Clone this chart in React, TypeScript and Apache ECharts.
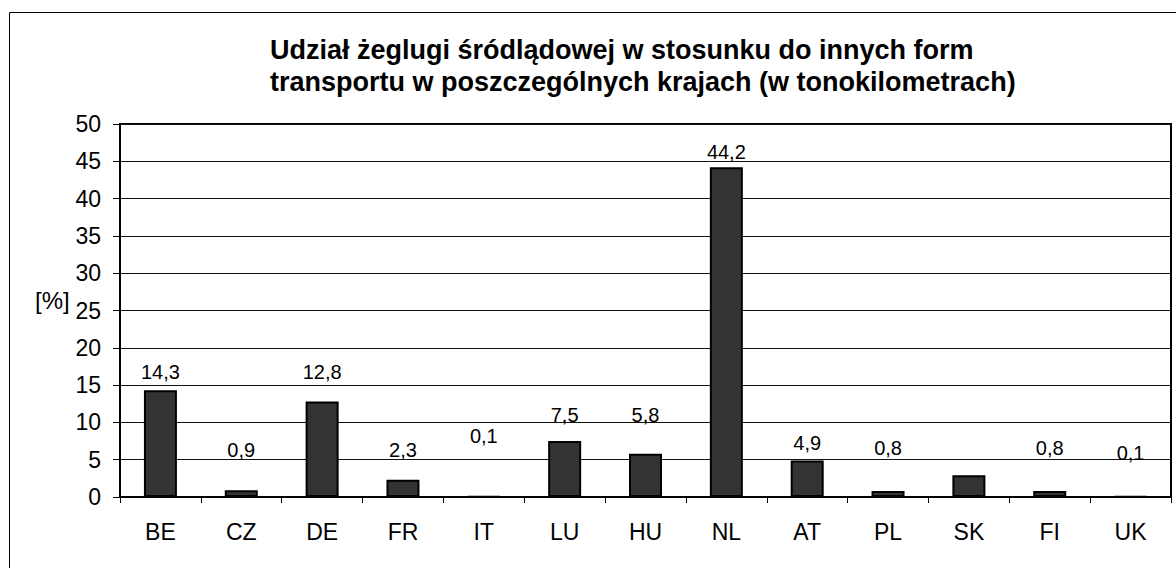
import React, { useEffect, useRef } from "react";
import * as echarts from "echarts";

const categories = ["BE", "CZ", "DE", "FR", "IT", "LU", "HU", "NL", "AT", "PL", "SK", "FI", "UK"];
const values = [14.3, 0.9, 12.8, 2.3, 0.1, 7.5, 5.8, 44.2, 4.9, 0.8, 2.9, 0.8, 0.1];
// label lift above bar top in px (null = no label shown)
const labelLift: (number | null)[] = [18.6, 40.3, 29.8, 29.8, 59.6, 26.1, 38.7, 15.6, 17.1, 42.7, null, 42.7, 43];

const titleLines = [
  "Udział żeglugi śródlądowej w stosunku do innych form",
  "transportu w poszczególnych krajach (w tonokilometrach)",
];
const yAxisName = "[%]";
const yMin = 0;
const yMax = 50;
const yInterval = 5;

const FONT = "'Liberation Sans', Arial, sans-serif";

export default function App() {
  const ref = useRef<HTMLDivElement>(null);
  useEffect(() => {
    document.body.style.margin = "0";
    if (!ref.current) return;
    const chart = echarts.init(ref.current, null, { renderer: "svg" });
    const data = values.map((v, i) => {
      const lift = labelLift[i];
      return {
        value: v,
        label: lift == null ? { show: false } : { show: true, offset: [0, -lift] },
      };
    });
    chart.setOption({
      animation: false,
      backgroundColor: "#fff",
      textStyle: { fontFamily: FONT },
      title: {
        text: titleLines.join("\n"),
        left: 265,
        top: 29,
        textAlign: "left",
        textStyle: {
          fontFamily: FONT,
          fontSize: 27,
          fontWeight: "bold",
          color: "#000",
          lineHeight: 32,
        },
      },
      graphic: [
        {
          type: "rect",
          shape: { x: 9.5, y: 12.5, width: 1200, height: 600 },
          style: { fill: "none", stroke: "#000", lineWidth: 1 },
          silent: true,
        },
        {
          type: "text",
          x: 35,
          y: 300,
          style: {
            text: yAxisName,
            fontFamily: FONT,
            fontSize: 24,
            fill: "#000",
            textAlign: "left",
            textVerticalAlign: "middle",
          },
        },
      ],
      grid: {
        left: 120,
        right: 5,
        top: 124,
        bottom: 71,
        show: true,
        borderColor: "#000",
        borderWidth: 2,
      },
      xAxis: {
        type: "category",
        data: categories,
        boundaryGap: true,
        axisLine: { show: true, lineStyle: { color: "#000", width: 2 } },
        axisTick: { show: true, length: 6, inside: false, alignWithLabel: false, lineStyle: { color: "#000", width: 1 } },
        axisLabel: { fontFamily: FONT, fontSize: 23, color: "#000", margin: 23 },
        splitLine: { show: false },
      },
      yAxis: {
        type: "value",
        min: yMin,
        max: yMax,
        interval: yInterval,
        axisLine: { show: true, lineStyle: { color: "#000", width: 2 } },
        axisTick: { show: true, length: 7, lineStyle: { color: "#000", width: 1 } },
        axisLabel: { fontFamily: FONT, fontSize: 23, color: "#000", margin: 19 },
        splitLine: { show: true, lineStyle: { color: "#111", width: 1 } },
      },
      series: [
        {
          type: "bar",
          data,
          barWidth: 33,
          itemStyle: { color: "#333333", borderColor: "#000", borderWidth: 2 },
          label: {
            show: true,
            position: "top",
            distance: 0,
            verticalAlign: "middle",
            fontFamily: FONT,
            fontSize: 20,
            color: "#000",
            formatter: (p: any) => String(p.value).replace(".", ","),
          },
        },
      ],
    });
    return () => chart.dispose();
  }, []);
  return <div ref={ref} style={{ width: 1176, height: 568 }} />;
}
